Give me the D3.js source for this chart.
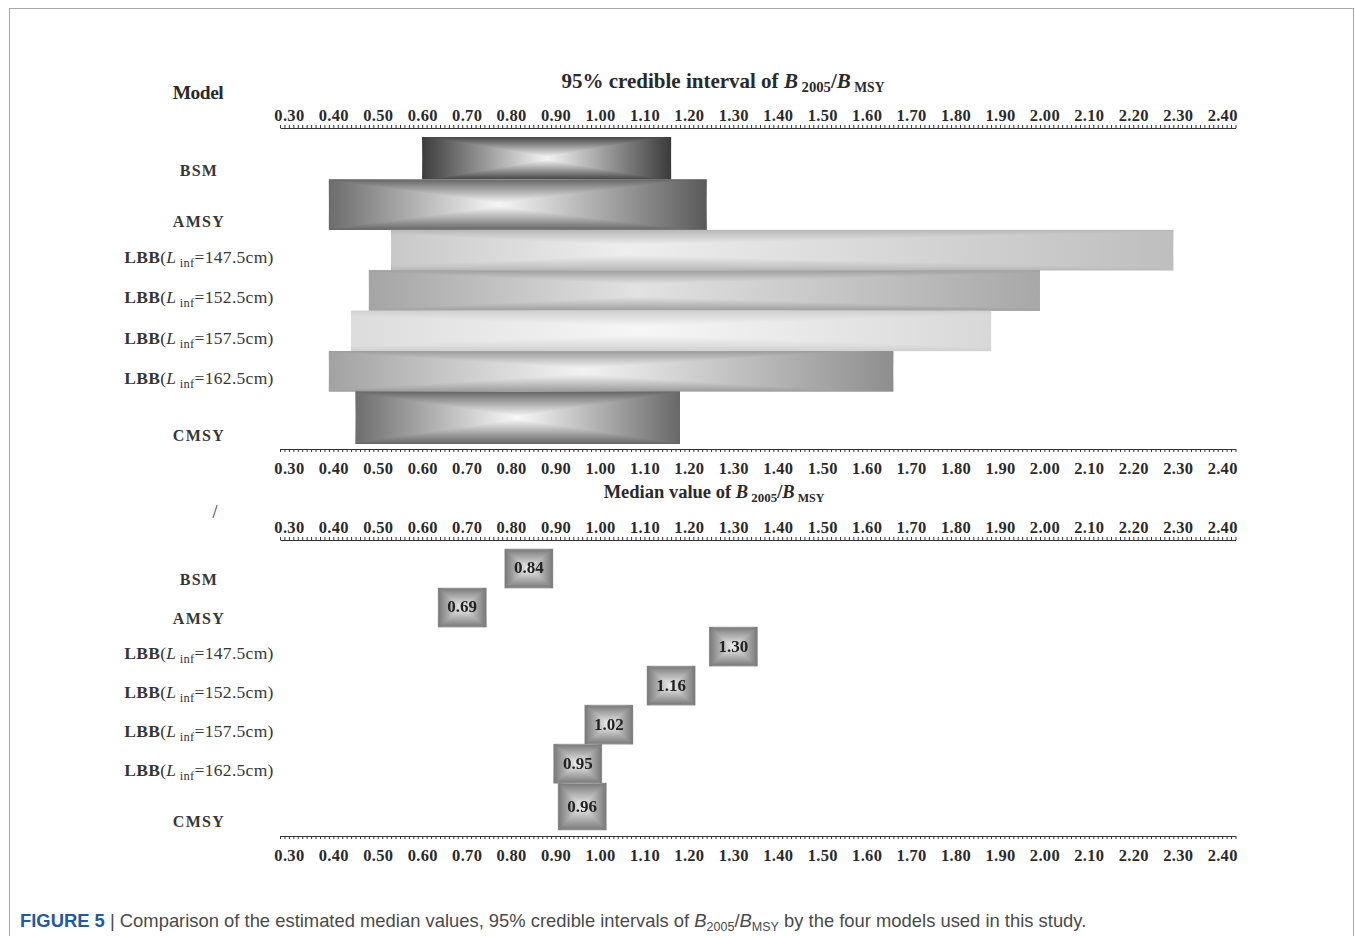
<!DOCTYPE html>
<html>
<head>
<meta charset="utf-8">
<script src="https://cdn.jsdelivr.net/npm/d3@7"></script>
<style>
  body { margin: 0; background: #fff; }
  svg text { font-family: "Liberation Serif", "Times New Roman", serif; }
</style>
</head>
<body>
<div id="chart"></div>
<script>
// values
var models = ['BSM', 'AMSY', 'LBB', 'LBB', 'LBB', 'LBB', 'CMSY'];
var linf = [null, null, '147.5', '152.5', '157.5', '162.5', null];
var ciLow = [0.60, 0.39, 0.53, 0.48, 0.44, 0.39, 0.45];
var ciHigh = [1.16, 1.24, 2.29, 1.99, 1.88, 1.66, 1.18];
var medians = [0.84, 0.69, 1.30, 1.16, 1.02, 0.95, 0.96];
var tickLabels = [0.30, 0.40, 0.50, 0.60, 0.70, 0.80, 0.90, 1.00, 1.10, 1.20, 1.30,
    1.40, 1.50, 1.60, 1.70, 1.80, 1.90, 2.00, 2.10, 2.20, 2.30, 2.40];

// shading of each interval bar: left edge, light spot, right edge, where the spot sits, top/bottom edge
var barStyle = [
    {left: '#3c3c3c', mid: '#f4f4f4', right: '#3a3a3a', at: 0.5, edge: '#464646'},
    {left: '#6c6c6c', mid: '#f6f6f6', right: '#5a5a5a', at: 0.45, edge: '#666666'},
    {left: '#c8c8c8', mid: '#eeeeee', right: '#bebebe', at: 0.3, edge: '#b8b8b8'},
    {left: '#a4a4a4', mid: '#e2e2e2', right: '#a8a8a8', at: 0.4, edge: '#9e9e9e'},
    {left: '#dcdcdc', mid: '#f6f6f6', right: '#d8d8d8', at: 0.45, edge: '#d0d0d0'},
    {left: '#a2a2a2', mid: '#f2f2f2', right: '#8e8e8e', at: 0.45, edge: '#9c9c9c'},
    {left: '#6e6e6e', mid: '#f8f8f8', right: '#686868', at: 0.5, edge: '#666666'}
];
var topWeights = [1.05, 1.25, 1, 1, 1, 1, 1.3];
var bottomWeights = [1, 1, 1, 1, 1, 1, 1.2];

var svg = d3.select('#chart')
    .append('svg')
    .attr('width', 1355)
    .attr('height', 936);

svg.append('rect')
    .attr('x', 9.5).attr('y', 8.5)
    .attr('width', 1344).attr('height', 960)
    .attr('fill', 'none')
    .attr('stroke', '#a8a8a8');

var x = d3.scaleLinear()
    .domain([0.28, 2.43])
    .range([280, 1235.5]);

var defs = svg.append('defs');

function addGradient(id, horizontal, stops) {
    var g = defs.append('linearGradient')
        .attr('id', id)
        .attr('x1', 0).attr('y1', 0)
        .attr('x2', horizontal ? 1 : 0)
        .attr('y2', horizontal ? 0 : 1);
    stops.forEach(function(s) {
        g.append('stop').attr('offset', s[0]).attr('stop-color', s[1]);
    });
}

barStyle.forEach(function(s, i) {
    addGradient('bh' + i, true, [[0, s.left], [s.at, s.mid], [1, s.right]]);
    addGradient('bv' + i, false, [[0, s.edge], [0.5, '#ffffff'], [1, s.edge]]);
});
addGradient('mh', true, [[0, '#787878'], [0.5, '#f0f0f0'], [1, '#787878']]);
addGradient('mv', false, [[0, '#787878'], [0.5, '#f0f0f0'], [1, '#787878']]);

// rows of uneven height, edges from cumulative weights
function rowEdges(weights, y0, y1) {
    var cum = [0].concat(Array.from(d3.cumsum(weights)));
    var s = d3.scaleLinear().domain([0, cum[cum.length - 1]]).range([y0, y1]);
    return weights.map(function(w, i) { return [s(cum[i]), s(cum[i + 1])]; });
}

function drawAxis(y, top) {
    var minor = d3.range(28, 244).map(function(d) { return d / 100; });
    var g = svg.append('g').attr('transform', 'translate(0,' + y + ')');
    var ax = (top ? d3.axisTop(x) : d3.axisBottom(x))
        .tickValues(minor)
        .tickSize(3)
        .tickSizeOuter(0)
        .tickFormat('');
    g.call(ax);
    g.selectAll('path, line').attr('stroke', '#333');

    var lab = (top ? d3.axisTop(x) : d3.axisBottom(x))
        .tickValues(tickLabels)
        .tickSize(0)
        .tickPadding(top ? 7 : 13)
        .tickFormat(d3.format('.2f'));
    var g2 = svg.append('g').attr('transform', 'translate(0,' + y + ')').call(lab);
    g2.select('.domain').remove();
    g2.selectAll('text')
        .attr('font-family', '"Liberation Serif", serif')
        .attr('font-size', 16.5)
        .attr('font-weight', 'bold')
        .attr('letter-spacing', 0.3)
        .attr('fill', '#2a2a2a');
}

function drawLabels(rows) {
    rows.forEach(function(r, i) {
        var t = svg.append('text')
            .attr('x', 199)
            .attr('text-anchor', 'middle')
            .attr('dy', '0.35em')
            .attr('fill', '#363636');
        if (linf[i] === null) {
            t.attr('y', r[1] - 9)
                .attr('font-size', 16)
                .attr('font-weight', 'bold')
                .attr('letter-spacing', 1.3)
                .text(models[i]);
        } else {
            t.attr('y', (r[0] + r[1]) / 2 + 6.5)
                .attr('font-size', 17.5)
                .attr('letter-spacing', 0.3);
            t.append('tspan').attr('font-weight', 'bold').text(models[i]);
            t.append('tspan').text('(');
            t.append('tspan').attr('font-style', 'italic').text('L');
            t.append('tspan').attr('font-size', 12.5).attr('dy', 4).text(' inf');
            t.append('tspan').attr('dy', -4).text('=' + linf[i] + 'cm)');
        }
    });
}

function titleText(xc, y, size, lead) {
    var t = svg.append('text')
        .attr('x', xc).attr('y', y)
        .attr('text-anchor', 'middle')
        .attr('font-size', size)
        .attr('font-weight', 'bold')
        .attr('fill', '#2a2a2a');
    t.append('tspan').text(lead + ' ');
    t.append('tspan').attr('font-style', 'italic').text('B');
    t.append('tspan').attr('font-size', size * 0.7).attr('dy', 4).text(' 2005');
    t.append('tspan').attr('dy', -4).text('/');
    t.append('tspan').attr('font-style', 'italic').text('B');
    t.append('tspan').attr('font-size', size * 0.65).attr('dy', 4).text(' MSY');
}

// ---- upper panel: 95% credible intervals
svg.append('text')
    .attr('x', 198).attr('y', 99)
    .attr('text-anchor', 'middle')
    .attr('font-size', 19.5)
    .attr('font-weight', 'bold')
    .attr('letter-spacing', -0.5)
    .attr('fill', '#2a2a2a')
    .text('Model');
titleText(723, 88, 21, '95%  credible interval of');

drawAxis(128, true);

var topRows = rowEdges(topWeights, 137, 444);

var bars = svg.append('g').style('isolation', 'isolate');
ciLow.forEach(function(lo, i) {
    var r = topRows[i];
    bars.append('rect')
        .attr('x', x(lo)).attr('y', r[0])
        .attr('width', x(ciHigh[i]) - x(lo))
        .attr('height', r[1] - r[0])
        .attr('fill', 'url(#bh' + i + ')');
    bars.append('rect')
        .attr('x', x(lo)).attr('y', r[0])
        .attr('width', x(ciHigh[i]) - x(lo))
        .attr('height', r[1] - r[0])
        .attr('fill', 'url(#bv' + i + ')')
        .style('mix-blend-mode', 'darken');
});
drawLabels(topRows);

drawAxis(449, false);
titleText(714, 498, 18.5, 'Median value of');

svg.append('text')
    .attr('x', 215).attr('y', 518)
    .attr('text-anchor', 'middle')
    .attr('font-size', 18)
    .attr('fill', '#333')
    .text('/');

// ---- lower panel: medians
drawAxis(540, true);

var botRows = rowEdges(bottomWeights, 549, 830);
var boxes = svg.append('g').style('isolation', 'isolate');
medians.forEach(function(m, i) {
    var r = botRows[i];
    var w = 48;
    boxes.append('rect')
        .attr('x', x(m) - w / 2).attr('y', r[0])
        .attr('width', w).attr('height', r[1] - r[0])
        .attr('fill', 'url(#mh)');
    boxes.append('rect')
        .attr('x', x(m) - w / 2).attr('y', r[0])
        .attr('width', w).attr('height', r[1] - r[0])
        .attr('fill', 'url(#mv)')
        .attr('stroke', '#b4b4b4')
        .attr('stroke-width', 0.8)
        .style('mix-blend-mode', 'darken');
    boxes.append('text')
        .attr('x', x(m))
        .attr('y', (r[0] + r[1]) / 2 - 1)
        .attr('dy', '0.35em')
        .attr('text-anchor', 'middle')
        .attr('font-size', 17)
        .attr('font-weight', 'bold')
        .attr('fill', '#222')
        .text(d3.format('.2f')(m));
});
drawLabels(botRows);

drawAxis(836, false);

// caption
var cap = svg.append('text')
    .attr('x', 20).attr('y', 927)
    .attr('font-size', 18.4)
    .attr('fill', '#4a4a4a')
    .style('font-family', '"Liberation Sans", Arial, sans-serif');
cap.append('tspan').attr('font-weight', 'bold').attr('fill', '#2358a3').text('FIGURE 5');
cap.append('tspan').text(' | Comparison of the estimated median values, 95% credible intervals of ');
cap.append('tspan').attr('font-style', 'italic').text('B');
cap.append('tspan').attr('font-size', 12.5).attr('dy', 4).text('2005');
cap.append('tspan').attr('dy', -4).text('/');
cap.append('tspan').attr('font-style', 'italic').text('B');
cap.append('tspan').attr('font-size', 12.5).attr('dy', 4).text('MSY');
cap.append('tspan').attr('dy', -4).text(' by the four models used in this study.');
</script>
</body>
</html>
